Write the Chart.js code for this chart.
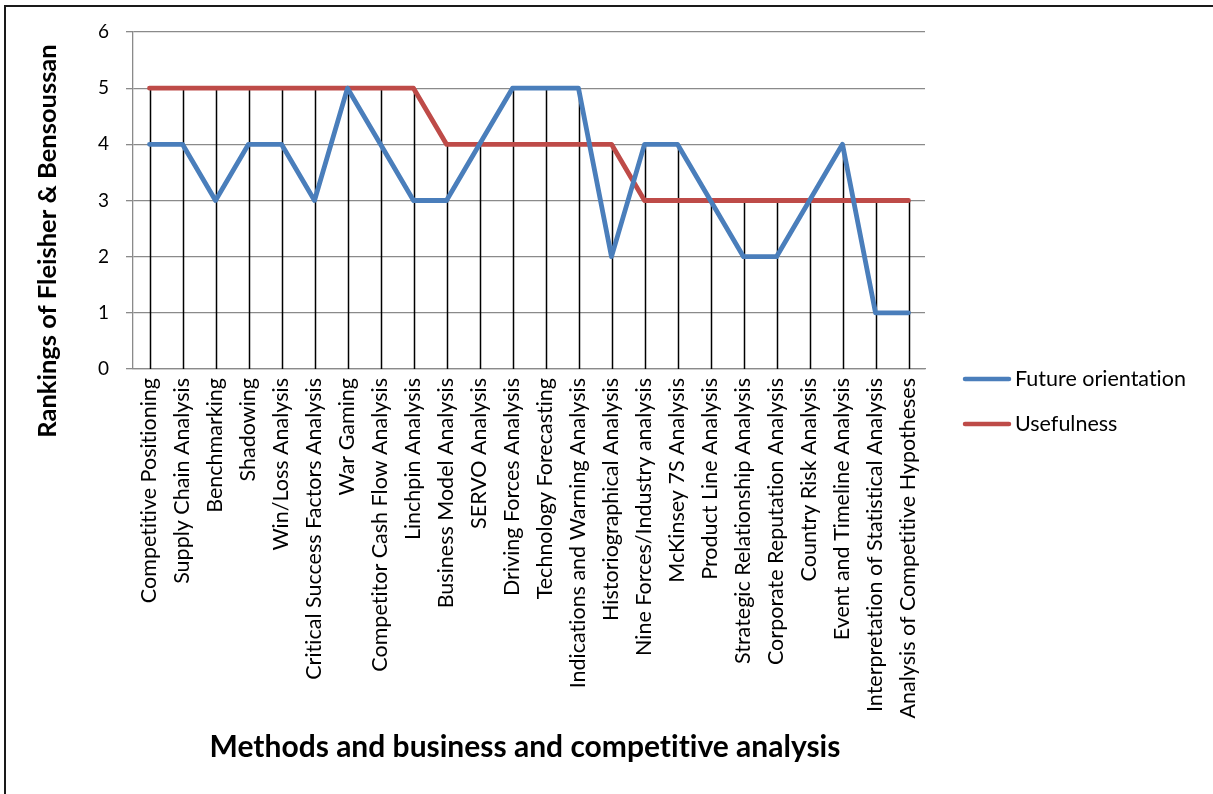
<!DOCTYPE html>
<html>
<head>
<meta charset="utf-8">
<title>Rankings of Fleisher & Bensoussan</title>
<script src="https://cdn.jsdelivr.net/npm/chart.js@4.4.1/dist/chart.umd.min.js"></script>
<style>
  html, body { margin: 0; padding: 0; background: #ffffff; }
  #wrap { position: relative; width: 1213px; height: 794px; }
  canvas { display: block; font-variant-ligatures: none; }
</style>
</head>
<body>
<div id="wrap"><canvas id="chart" width="1213" height="794"></canvas></div>
<script>
// Analysis methods (categories on the x axis)
const methods = [
  'Competitive Positioning',
  'Supply Chain Analysis',
  'Benchmarking',
  'Shadowing',
  'Win/Loss Analysis',
  'Critical Success Factors Analysis',
  'War Gaming',
  'Competitor Cash Flow Analysis',
  'Linchpin Analysis',
  'Business Model Analysis',
  'SERVO Analysis',
  'Driving Forces Analysis',
  'Technology Forecasting',
  'Indications and Warning Analysis',
  'Historiographical Analysis',
  'Nine Forces/Industry analysis',
  'McKinsey 7S Analysis',
  'Product Line Analysis',
  'Strategic Relationship Analysis',
  'Corporate Reputation Analysis',
  'Country Risk Analysis',
  'Event and Timeline Analysis',
  'Interpretation of Statistical Analysis',
  'Analysis of Competitive Hypotheses'
];

// Ranking scores per method
const futureOrientation = [4, 4, 3, 4, 4, 3, 5, 4, 3, 3, 4, 5, 5, 5, 2, 4, 4, 3, 2, 2, 3, 4, 1, 1];
const usefulness        = [5, 5, 5, 5, 5, 5, 5, 5, 5, 4, 4, 4, 4, 4, 4, 3, 3, 3, 3, 3, 3, 3, 3, 3];

// Value axis ticks
const rankTicks = [0, 1, 2, 3, 4, 5, 6];

const seriesNames = ['Future orientation', 'Usefulness'];
const yTitle = 'Rankings of Fleisher & Bensoussan';
const xTitle = 'Methods and business and competitive analysis';

const FONT = 'Lato, "Open Sans", "DejaVu Sans", sans-serif';
const BLUE = '#4a7ebb';
const RED = '#be4b48';
const GRID = '#8a8a8a';

// Plain glyphs, no ligatures, for all canvas text
const plainText = {
  id: 'plainText',
  beforeDraw(chart) {
    chart.ctx.textRendering = 'optimizeSpeed';
  }
};

// Black drop lines from the category axis up to the higher of the two series
const dropLines = {
  id: 'dropLines',
  beforeDatasetsDraw(chart) {
    const { ctx, scales: { x, y } } = chart;
    ctx.save();
    ctx.strokeStyle = '#000000';
    ctx.lineWidth = 1.5;
    const n = chart.data.labels.length;
    for (let i = 0; i < n; i++) {
      const top = Math.max(...chart.data.datasets.map(d => d.data[i]));
      const px = Math.round(x.getPixelForValue(i)) + 0.5;
      ctx.beginPath();
      ctx.moveTo(px, y.getPixelForValue(0));
      ctx.lineTo(px, y.getPixelForValue(top));
      ctx.stroke();
    }
    ctx.restore();
  }
};

// Axis titles, legend and page frame
const decorations = {
  id: 'decorations',
  afterDraw(chart) {
    const { ctx } = chart;
    ctx.save();

    // frame (top and left edges)
    ctx.strokeStyle = '#1a1a1a';
    ctx.lineWidth = 2;
    ctx.beginPath();
    ctx.moveTo(1213, 6);
    ctx.lineTo(5, 6);
    ctx.lineTo(5, 794);
    ctx.stroke();

    // y axis title
    ctx.fillStyle = '#000000';
    ctx.font = 'bold 25.5px ' + FONT;
    ctx.textAlign = 'center';
    ctx.textBaseline = 'middle';
    ctx.save();
    ctx.translate(48, 241);
    ctx.rotate(-Math.PI / 2);
    ctx.fillText(yTitle, 0, 0);
    ctx.restore();

    // x axis title
    ctx.font = 'bold 30px ' + FONT;
    ctx.fillText(xTitle, 525, 747);

    // legend
    ctx.font = '21.5px ' + FONT;
    ctx.textAlign = 'left';
    chart.data.datasets.forEach((d, i) => {
      const ly = 379 + i * 45;
      ctx.strokeStyle = d.borderColor;
      ctx.lineWidth = 4.5;
      ctx.lineCap = 'round';
      ctx.beginPath();
      ctx.moveTo(965, ly);
      ctx.lineTo(1009, ly);
      ctx.stroke();
      ctx.fillStyle = '#000000';
      ctx.fillText(d.label, 1015, ly);
    });
    ctx.restore();
  }
};

new Chart(document.getElementById('chart'), {
  type: 'line',
  data: {
    labels: methods,
    datasets: [
      {
        label: seriesNames[0],
        data: futureOrientation,
        borderColor: BLUE,
        backgroundColor: BLUE,
        borderWidth: 4.8,
        pointRadius: 0,
        tension: 0,
        borderJoinStyle: 'round',
        borderCapStyle: 'round'
      },
      {
        label: seriesNames[1],
        data: usefulness,
        borderColor: RED,
        backgroundColor: RED,
        borderWidth: 4.8,
        pointRadius: 0,
        tension: 0,
        borderJoinStyle: 'round',
        borderCapStyle: 'round'
      }
    ]
  },
  options: {
    responsive: false,
    animation: false,
    devicePixelRatio: 1,
    layout: {
      autoPadding: false,
      padding: { left: 0, top: 32, right: 288, bottom: 0 }
    },
    plugins: {
      legend: { display: false },
      tooltip: { enabled: false },
      title: { display: false }
    },
    scales: {
      x: {
        type: 'category',
        offset: true,
        grid: { display: false, drawTicks: false },
        border: { display: true, color: GRID, width: 1.3 },
        ticks: {
          autoSkip: false,
          minRotation: 90,
          maxRotation: 90,
          padding: 9,
          color: '#000000',
          font: { family: FONT, size: 21.5 }
        },
        afterFit(scale) { scale.height = 794 - 369; }
      },
      y: {
        min: 0,
        max: 6,
        afterBuildTicks(scale) { scale.ticks = rankTicks.map(v => ({ value: v })); },
        grid: { color: GRID, lineWidth: 1.3, drawTicks: true, tickLength: 7 },
        border: { display: true, color: GRID, width: 1.3 },
        ticks: {
          padding: 17,
          color: '#000000',
          font: { family: FONT, size: 19 }
        },
        afterFit(scale) { scale.width = 133; }
      }
    }
  },
  plugins: [plainText, dropLines, decorations]
});
</script>
</body>
</html>
